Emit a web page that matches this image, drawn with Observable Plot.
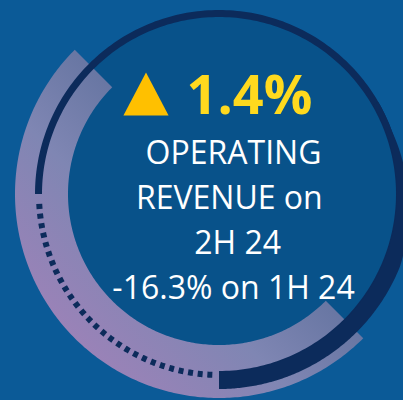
<!DOCTYPE html>
<html><head><meta charset="utf-8">
<script src="https://cdn.jsdelivr.net/npm/d3@7"></script>
<script src="https://cdn.jsdelivr.net/npm/@observablehq/plot@0.6"></script>
<style>
html,body{margin:0;padding:0;background:#0b5a97;width:403px;height:400px;overflow:hidden}
#chart svg{display:block}
#chart text{white-space:pre}
</style></head><body><div id="chart"></div>
<script>
// Values shown in the graphic
const headline = "1.4%";
const lines = ["OPERATING", "REVENUE on ", " 2H 24", "-16.3% on 1H 24"];

// Decorative rings: angles (deg, clockwise from 12 o'clock), radii in px
const gradientArc = {start: 135, end: 315, inner: 151, outer: 204};
const thinRing   = {start: 270, end: 540, inner: 177, outer: 184};
const dashedRing = {start: 267, end: 182, r: 180.5};
const thickArc   = {start: 60, end: 180, inner: 178, outerFrom: 184, outerTo: 195, rampFrom: 70, rampTo: 112};

const bg = "#0b5a97", disc = "#08528a", navy = "#0c2b5b";
const yellowTri = "#ffc000", yellowText = "#ffd91e";

const rad = d => d * Math.PI / 180;
const px = (r, a) => r * Math.sin(rad(a));
const py = (r, a) => r * Math.cos(rad(a));
const sweep = (s, e, n = 240) => d3.range(n + 1).map(i => s + (e - s) * i / n);

const ringArea = (seg, outerFn, fill) => Plot.area(sweep(seg.start, seg.end), {
  x1: a => px(seg.inner, a), y1: a => py(seg.inner, a),
  x2: a => px(outerFn(a), a), y2: a => py(outerFn(a), a),
  fill, curve: "linear"
});

const thickOuter = a => {
  const t = Math.max(0, Math.min(1, (a - thickArc.rampFrom) / (thickArc.rampTo - thickArc.rampFrom)));
  return thickArc.outerFrom + (thickArc.outerTo - thickArc.outerFrom) * t;
};

const triSymbol = {draw(ctx, size) {
  const r = Math.sqrt(size / Math.PI);
  ctx.moveTo(0, -r); ctx.lineTo(r * 1.05, r); ctx.lineTo(-r * 1.05, r); ctx.closePath();
}};

const textX = 14, firstBaseline = 31, lineStep = 45;

const chart = Plot.plot({
  width: 403, height: 400, margin: 0,
  style: {background: bg, fontFamily: "'Open Sans', sans-serif"},
  x: {domain: [-219, 184], axis: null},
  y: {domain: [-206, 194], axis: null},
  marks: [
    () => {
      const defs = d3.create("svg:defs");
      const g = defs.append("linearGradient").attr("id", "arcGrad")
        .attr("gradientUnits", "userSpaceOnUse")
        .attr("x1", 40).attr("y1", 360).attr("x2", 262).attr("y2", 138);
      g.append("stop").attr("offset", 0).attr("stop-color", "#a381b9");
      g.append("stop").attr("offset", 0.5).attr("stop-color", "#7f86b3");
      g.append("stop").attr("offset", 1).attr("stop-color", "#566a96");
      return defs.node();
    },
    Plot.dot([0], {x: 0, y: 0, r: 180, fill: disc, stroke: null}),
    ringArea(gradientArc, () => gradientArc.outer, "url(#arcGrad)"),
    ringArea(thinRing, () => thinRing.outer, navy),
    ringArea(thickArc, thickOuter, navy),
    Plot.line(sweep(dashedRing.start, dashedRing.end), {
      x: a => px(dashedRing.r, a), y: a => py(dashedRing.r, a),
      stroke: navy, strokeWidth: 6, strokeDasharray: "5,4.7", strokeLinecap: "butt", curve: "linear"
    }),
    Plot.dot([headline], {x: -73.5, y: 100.5, r: 21.5, symbol: triSymbol, fill: yellowTri, stroke: null}),
    Plot.text([headline], {x: -33, y: 81, text: d => d, fill: yellowText, fontSize: 54,
      fontWeight: "bold", textAnchor: "start", lineAnchor: "bottom"}),
    Plot.text(lines, {x: textX, y: (d, i) => firstBaseline - i * lineStep, text: d => d,
      fill: "#ffffff", fontSize: 32, textAnchor: "middle", lineAnchor: "bottom"})
  ]
});
document.getElementById("chart").append(chart);
</script></body></html>
